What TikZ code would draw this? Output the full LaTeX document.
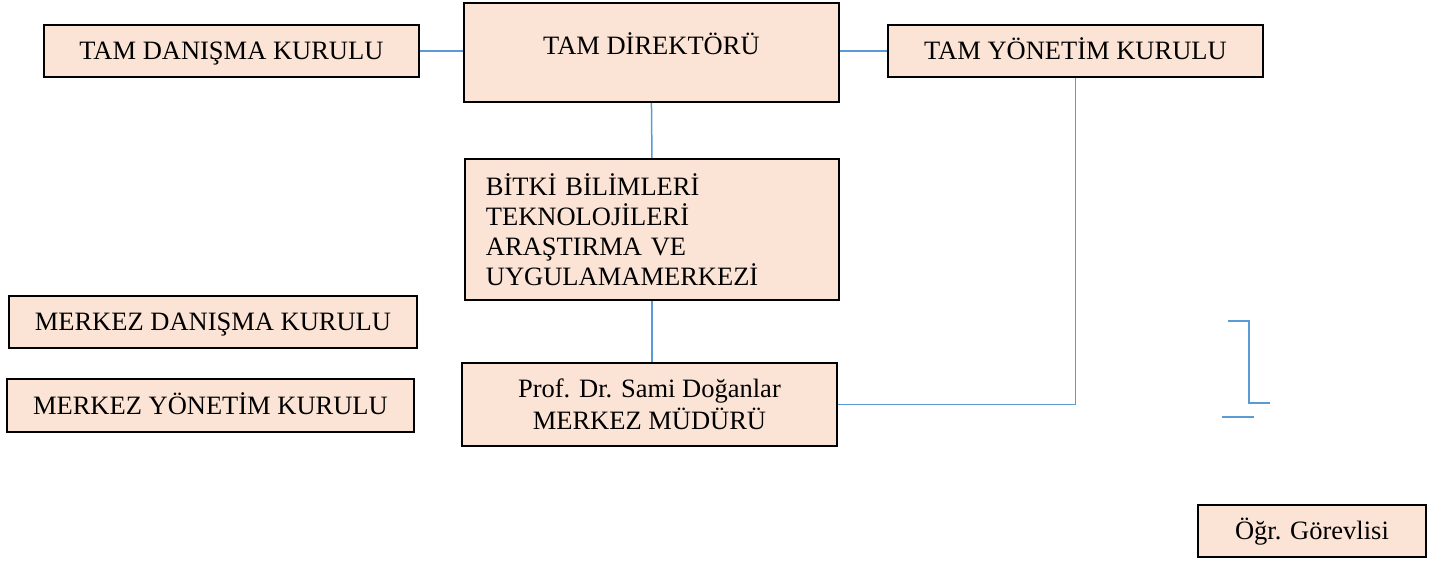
\documentclass[tikz,border=0pt]{standalone}
\usepackage{fontspec}
\setmainfont{Liberation Serif}
\definecolor{peach}{HTML}{FBE4D5}
\definecolor{linkblue}{HTML}{5B9BD5}
\begin{document}
\begin{tikzpicture}[x=1pt,y=-1pt,
  box/.style={draw=black, line width=1.9pt, fill=peach, inner sep=0pt,
    font=\fontsize{26.5}{30}\selectfont, anchor=north west},
  onel/.style={box, text height=18pt, text depth=0pt},
  link/.style={draw=linkblue, line width=1.5pt}]
\useasboundingbox (0,0) rectangle (1441,561);
\node[onel, minimum width=375pt, minimum height=52pt] (tdk) at (43,24) {TAM DANIŞMA KURULU};
\node[box, minimum width=375pt, minimum height=99pt, text height=23pt, text depth=19pt] (tdir) at (463,2) {TAM DİREKTÖRÜ};
\node[onel, minimum width=375pt, minimum height=52pt] (tyk) at (887,24) {TAM YÖNETİM KURULU};
\node[box, minimum width=374pt, minimum height=141pt, align=left, text width=332pt, inner xsep=21pt] (bit) at (464,158) {BİTKİ BİLİMLERİ\\TEKNOLOJİLERİ\\ARAŞTIRMA VE\\UYGULAMAMERKEZİ};
\node[onel, minimum width=408pt, minimum height=52pt] (mdk) at (8,295) {MERKEZ DANIŞMA KURULU};
\node[onel, minimum width=407pt, minimum height=53pt] (myk) at (6,378) {MERKEZ YÖNETİM KURULU};
\node[box, minimum width=375pt, minimum height=83pt, align=center, font=\fontsize{26.5}{32}\selectfont] (mud) at (461,362) {Prof. Dr. Sami Doğanlar\\MERKEZ MÜDÜRÜ};
\node[onel, minimum width=228pt, minimum height=52pt] (ogr) at (1197,504) {Öğr. Görevlisi};
\draw[link] (tdk.east) -- (tdk.east -| tdir.west);
\draw[link] (tyk.west -| tdir.east) -- (tyk.west);
\draw[link] (tdir.south) -- (bit.north);
\draw[link] (bit.south) -- (bit.south |- mud.north);
\draw[link] (tyk.south) |- (mud.east);
\coordinate (b1) at (1228,321);
\coordinate (b2) at (1249,321);
\coordinate (b3) at (1249,403);
\coordinate (b4) at (1270,403);
\coordinate (c1) at (1222,417);
\coordinate (c2) at (1254,417);
\draw[link] (b1) -- (b2) -- (b3) -- (b4);
\draw[link] (c1) -- (c2);
\end{tikzpicture}
\end{document}
